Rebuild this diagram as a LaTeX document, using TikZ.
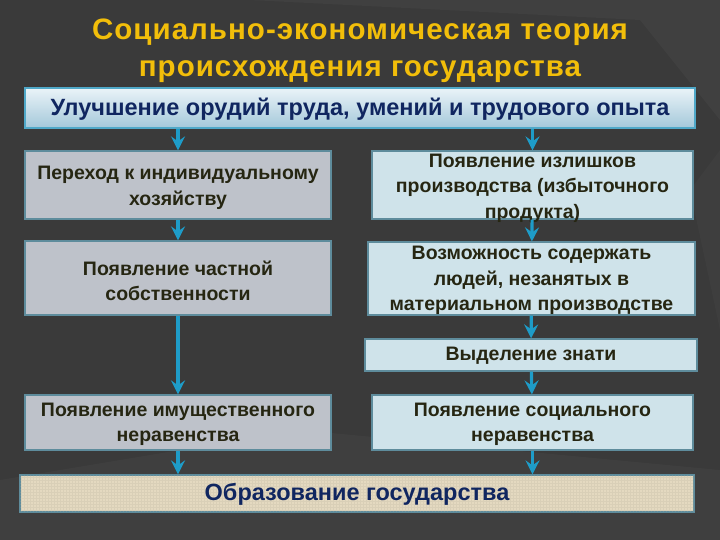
\documentclass[tikz,border=0pt]{standalone}
\usepackage{fontspec}
\setmainfont{Liberation Sans}
\usetikzlibrary{arrows.meta}
\definecolor{bgc}{HTML}{3A3A3A}
\definecolor{bgl}{HTML}{444444}
\definecolor{titlec}{HTML}{F2BE0A}
\definecolor{navy}{HTML}{102660}
\definecolor{olive}{HTML}{262612}
\definecolor{graybox}{HTML}{BEC2CA}
\definecolor{bluebox}{HTML}{CFE3EA}
\definecolor{edgec}{HTML}{5E8C9C}
\definecolor{arrc}{HTML}{1E9CC8}
\definecolor{beige}{HTML}{E4D9C0}
\definecolor{topt}{HTML}{EAF3F8}
\definecolor{topb}{HTML}{A4C8DA}
\definecolor{tope}{HTML}{4FA8C8}
\tikzset{
  boxbase/.style={draw=edgec, line width=1.2pt, inner sep=0pt},
  lbox/.style={boxbase, fill=graybox},
  rbox/.style={boxbase, fill=bluebox},
  boxtext/.style={align=center, inner sep=0pt, text=olive,
    font=\bfseries\fontsize{19.5}{25.5}\selectfont},
  titletext/.style={anchor=base, text=titlec, inner sep=0pt,
    font=\bfseries\fontsize{29.5}{36}\selectfont\addfontfeatures{LetterSpace=3.5}},
  bigtext/.style={text=navy, inner sep=0pt, font=\bfseries\fontsize{23.5}{28}\selectfont},
  arr/.style={draw=arrc, line width=3.2pt, -{Stealth[length=14pt, width=14pt, inset=5pt]}},
}
\begin{document}
\begin{tikzpicture}[x=1pt, y=-1pt]
\useasboundingbox (0,0) rectangle (720,540);
\fill[bgc] (0,0) rectangle (720,540);
\fill[bgl, opacity=0.6] (250,0) -- (720,0) -- (720,120) -- (640,20) -- cycle;
\fill[bgl, opacity=0.5] (0,480) -- (300,430) -- (720,470) -- (720,540) -- (0,540) -- cycle;
\fill[bgl, opacity=0.4] (690,190) -- (720,150) -- (720,330) -- cycle;
% title
\node[titletext] (t1) at (360,40) {Социально-экономическая теория};
\node[titletext] (t2) at (360,77) {происхождения государства};
% top box
\node[draw=tope, line width=1.2pt, top color=topt, bottom color=topb,
  minimum width=670, minimum height=40, inner sep=0pt] (top) at (360,108) {};
\node[bigtext] (toptext) at ([yshift=-1pt]top.center) {Улучшение орудий труда, умений и трудового опыта};
% left column
\node[lbox, minimum width=306, minimum height=68] (l1) at (178,185) {};
\node[boxtext] (l1t) at ([yshift=-3pt]l1.center) {Переход к индивидуальному\\хозяйству};
\node[lbox, minimum width=306, minimum height=74] (l2) at (178,278) {};
\node[boxtext] (l2t) at ([yshift=-3pt]l2.center) {Появление частной\\собственности};
\node[lbox, minimum width=306, minimum height=55] (l3) at (178,422.5) {};
\node[boxtext] (l3t) at ([yshift=-2pt]l3.center) {Появление имущественного\\неравенства};
% right column
\node[rbox, minimum width=321, minimum height=68] (r1) at (532.5,185) {};
\node[boxtext] (r1t) at ([yshift=-3pt]r1.center) {Появление излишков\\производства (избыточного\\продукта)};
\node[rbox, minimum width=327, minimum height=73] (r2) at (531.5,278.5) {};
\node[boxtext] (r2t) at ([yshift=-2pt]r2.center) {Возможность содержать\\людей, незанятых в\\материальном производстве};
\node[rbox, minimum width=332, minimum height=32] (r3) at (531,355) {};
\node[boxtext] (r3t) at ([yshift=-1pt]r3.center) {Выделение знати};
\node[rbox, minimum width=321, minimum height=55] (r4) at (532.5,422.5) {};
\node[boxtext] (r4t) at ([yshift=-2pt]r4.center) {Появление социального\\неравенства};
% bottom box
\node[draw=edgec, line width=1.2pt, fill=beige, minimum width=674, minimum height=37, inner sep=0pt] (bot) at (357,493.5) {};
\begin{scope}
\clip (bot.south west) rectangle (bot.north east);
\draw[beige!80!black, opacity=0.22, line width=0.4pt] (bot.south west) grid[xstep=3pt, ystep=3pt] (bot.north east);
\end{scope}
\draw[edgec, line width=1.2pt] (bot.south west) rectangle (bot.north east);
\node[bigtext] (bottext) at ([yshift=-1pt]bot.center) {Образование государства};
% connectors
\draw[arr] (top.south -| l1) -- (l1.north);
\draw[arr] (top.south -| r1) -- (r1.north);
\draw[arr] (l1) -- (l2);
\draw[arr] (l2) -- (l3);
\draw[arr] (r1) -- (r2);
\draw[arr] (r2) -- (r3);
\draw[arr] (r3) -- (r4);
\draw[arr] (l3.south) -- (bot.north -| l3);
\draw[arr] (r4.south) -- (bot.north -| r4);
\end{tikzpicture}
\end{document}
